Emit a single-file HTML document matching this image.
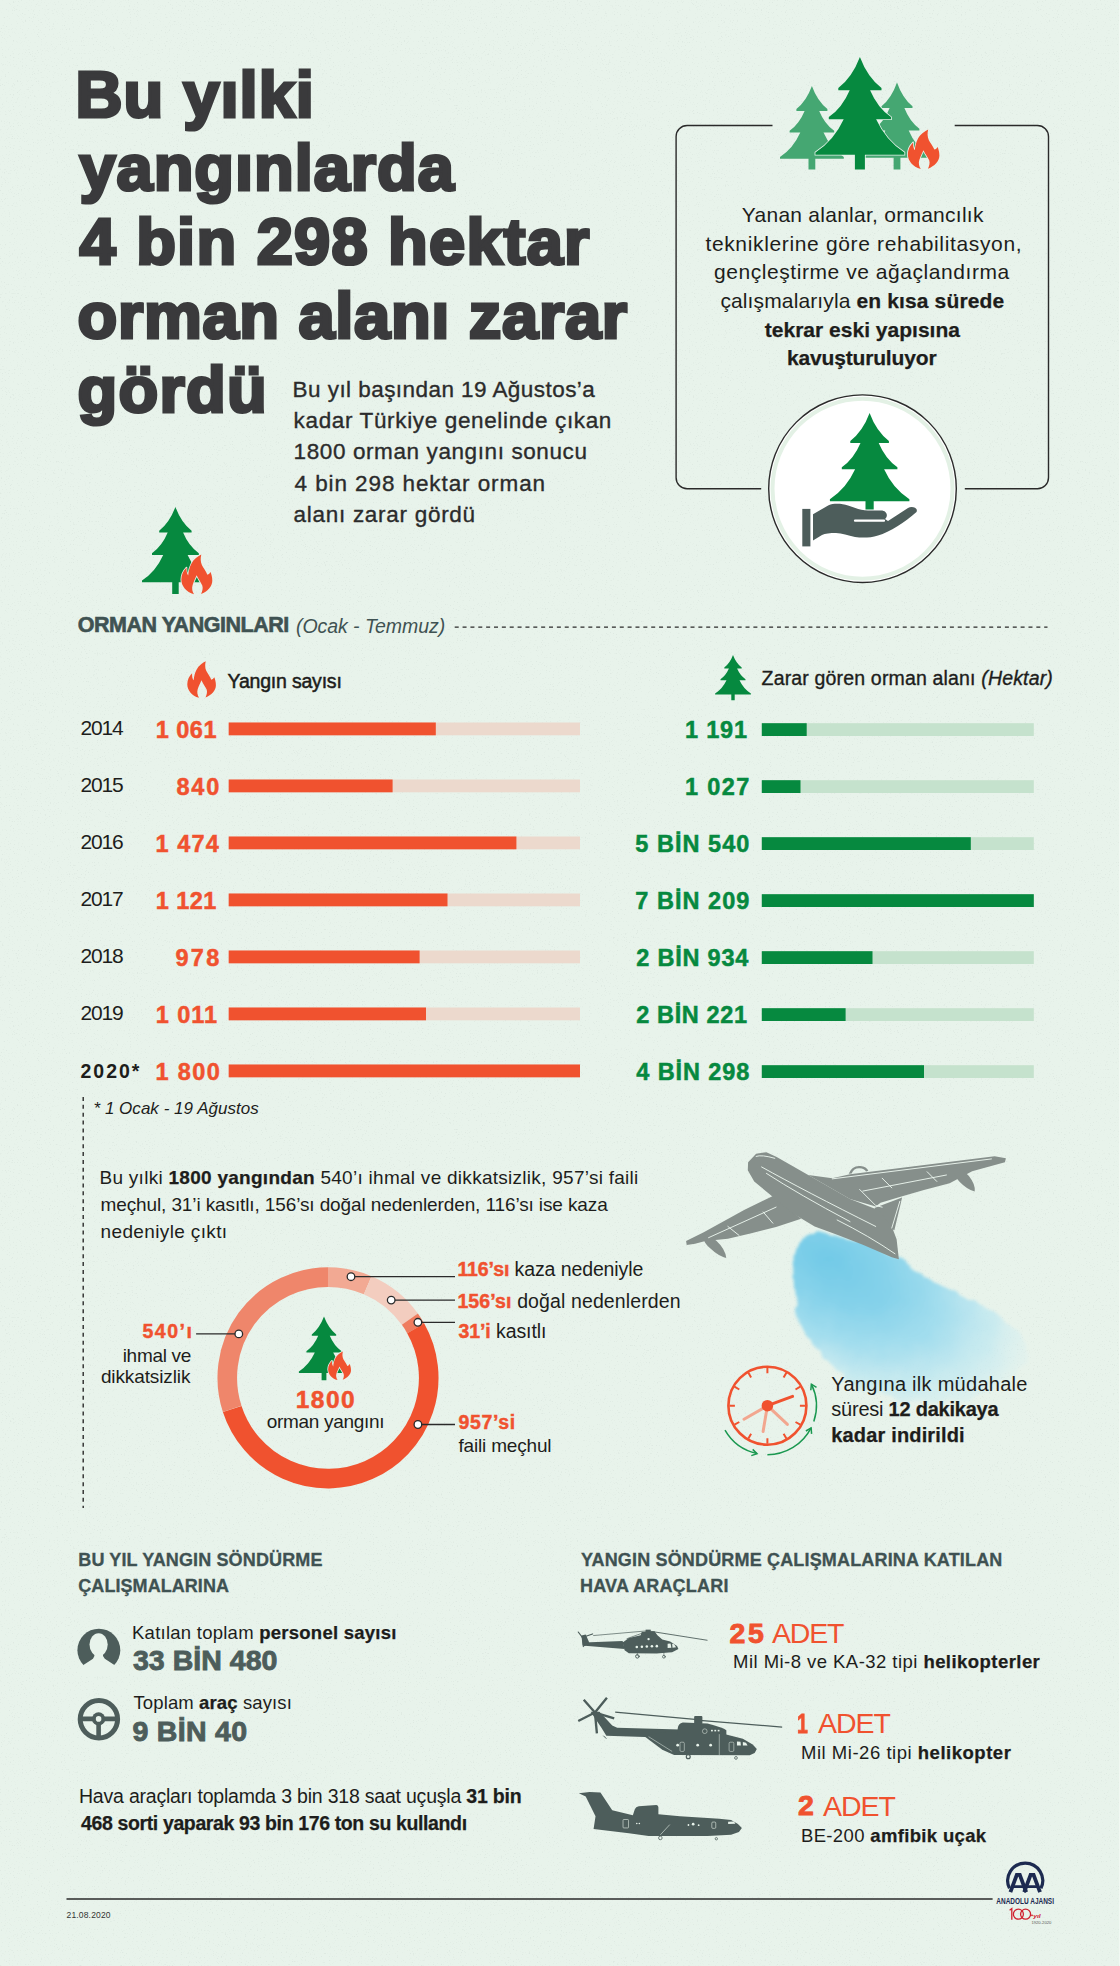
<!DOCTYPE html>
<html lang="tr"><head><meta charset="utf-8"><title>Orman yangınları</title>
<style>
html,body{margin:0;padding:0}
body{width:1120px;height:1966px;background:#e8f3eb;position:relative;overflow:hidden;font-family:'Liberation Sans',sans-serif;}
#g{position:absolute;left:0;top:0}
#t div{position:absolute;white-space:nowrap;line-height:1;font-family:'Liberation Sans',sans-serif;}
</style></head><body>
<svg id="g" width="1120" height="1966" viewBox="0 0 1120 1966">
<defs><filter id="nz" x="0" y="0" width="100%" height="100%"><feTurbulence type="fractalNoise" baseFrequency="0.75" numOctaves="2" seed="7"/><feColorMatrix type="matrix" values="0 0 0 0 0.60  0 0 0 0 0.68  0 0 0 0 0.63  6 0 0 0 -3.75"/></filter></defs>
<rect x="0" y="0" width="1120" height="1966" filter="url(#nz)" opacity="0.33"/>
<g fill="none" stroke="#2a2a2a" stroke-width="1.4"><path d="M772.5,125.5 H687.1 A11,11 0 0 0 676.1,136.5 V477.7 A11,11 0 0 0 687.1,488.7 H761.2"/><path d="M954.7,125.5 H1037.5 A11,11 0 0 1 1048.5,136.5 V477.7 A11,11 0 0 1 1037.5,488.7 H964.8"/></g>
<path d="M811.9,86.1 Q817.3,101.1 827.4,109.1 L827.4,110.9 L819.2,110.9 Q824.5,123.8 834.2,130.8 L834.2,132.5 L823.5,132.5 Q830.6,148.4 843.8,157 L843.8,158.7 L815.3,158.7 L815.3,169.4 L808.5,169.4 L808.5,158.7 L780,158.7 L780,157 Q793.2,148.4 800.3,132.5 L789.6,132.5 L789.6,130.8 Q799.3,123.8 804.6,110.9 L796.4,110.9 L796.4,109.1 Q806.5,101.1 811.9,86.1 Z" fill="#45a772" />
<path d="M897,82.4 Q902.4,97.9 912.5,106.3 L912.5,108.1 L904.4,108.1 Q909.6,121.5 919.4,128.8 L919.4,130.5 L908.7,130.5 Q915.8,147.1 929,156 L929,157.8 L900.4,157.8 L900.4,169.4 L893.6,169.4 L893.6,157.8 L865,157.8 L865,156 Q878.2,147.1 885.3,130.5 L874.6,130.5 L874.6,128.8 Q884.4,121.5 889.6,108.1 L881.5,108.1 L881.5,106.3 Q891.6,97.9 897,82.4 Z" fill="#45a772" />
<path d="M859.9,56.9 Q867.5,77.1 881.5,88 L881.5,90.2 L870.1,90.2 Q877.5,107.7 891,117.1 L891,119.3 L876.1,119.3 Q886,140.9 904.4,152.5 L904.4,154.7 L864.9,154.7 L864.9,169.4 L854.9,169.4 L854.9,154.7 L815.4,154.7 L815.4,152.5 Q833.8,140.9 843.7,119.3 L828.8,119.3 L828.8,117.1 Q842.3,107.7 849.7,90.2 L838.3,90.2 L838.3,88 Q852.3,77.1 859.9,56.9 Z" fill="#06893f" stroke="#e8f3eb" stroke-width="1.6" paint-order="stroke"/>
<path transform="translate(907.5,129.2) scale(0.3190,0.3141)" d="M64.8,1 C55,6 40,16 33,30 C27,42 24,54 23,67 C19,62 17,52 17.6,42 C8,52 1,64 1,80 C1,100 16,120 41.7,127 C36,118 34,108 37,98 C40,88 46,76 50,66.7 C55,78 64,90 68,99 C71,108 68,118 64,126 C85,118 100,102 100,84 C100,72 97,63 94.4,56.5 C92,60 89,64 84.3,65 C80,55 72,44 67,35 C62,24 62,12 64.8,1 Z" fill="#f0522f" stroke="#e8f3eb" stroke-width="5" paint-order="stroke" stroke-linejoin="round"/>
<circle cx="862.5" cy="488.7" r="93.8" fill="#fff" stroke="#2a2a2a" stroke-width="1.4"/>
<circle cx="862.5" cy="488.7" r="90" fill="none" stroke="#e3f1e5" stroke-width="4"/>
<path d="M869.6,413 Q876.3,431.2 888.9,441 L888.9,443 L878.7,443 Q885.3,458.8 897.4,467.3 L897.4,469.3 L884.1,469.3 Q892.9,488.7 909.4,499.2 L909.4,501.2 L873.7,501.2 L873.7,509.4 L865.5,509.4 L865.5,501.2 L829.9,501.2 L829.9,499.2 Q846.3,488.7 855.1,469.3 L841.8,469.3 L841.8,467.3 Q853.9,458.8 860.5,443 L850.3,443 L850.3,441 Q862.9,431.2 869.6,413 Z" fill="#06893f" />
<rect x="802.3" y="508.9" width="8.1" height="37.5" fill="#4d5d5b"/>
<path fill="#4d5d5b" d="M813,514.3 L828.6,505.2 C834,503 842,503.5 848,505.5 C855,508 861,510.5 868,510.5 L881,510.5 C887,510.5 888.5,516 885,519 L888,521 L908,508 C912,505.5 918.5,508 916.5,512 C905,522 890,532 878,535.5 C870,538 862,538 855,537 C848,535.5 842,533 836,533 C830,533 825,533.5 822,535 L813,540.5 Z"/>
<path d="M855,520.7 H884" stroke="#fff" stroke-width="2.2" stroke-linecap="round"/>
<path d="M175.4,506.9 Q181.1,522.4 191.6,530.8 L191.6,532.6 L183.1,532.6 Q188.6,546 198.8,553.3 L198.8,555 L187.6,555 Q195,571.6 208.8,580.5 L208.8,582.3 L178.7,582.3 L178.7,594 L172.2,594 L172.2,582.3 L142,582.3 L142,580.5 Q155.8,571.6 163.2,555 L152,555 L152,553.3 Q162.2,546 167.7,532.6 L159.2,532.6 L159.2,530.8 Q169.7,522.4 175.4,506.9 Z" fill="#06893f" />
<path transform="translate(181,554.3) scale(0.3130,0.3148)" d="M64.8,1 C55,6 40,16 33,30 C27,42 24,54 23,67 C19,62 17,52 17.6,42 C8,52 1,64 1,80 C1,100 16,120 41.7,127 C36,118 34,108 37,98 C40,88 46,76 50,66.7 C55,78 64,90 68,99 C71,108 68,118 64,126 C85,118 100,102 100,84 C100,72 97,63 94.4,56.5 C92,60 89,64 84.3,65 C80,55 72,44 67,35 C62,24 62,12 64.8,1 Z" fill="#f0522f" stroke="#e8f3eb" stroke-width="5.1" paint-order="stroke" stroke-linejoin="round"/>
<path d="M454.7,627.1 H1047.5" stroke="#2a2a2a" stroke-width="1.4" stroke-dasharray="4 3.86" fill="none"/>
<path transform="translate(187,661) scale(0.2890,0.2891)" d="M64.8,1 C55,6 40,16 33,30 C27,42 24,54 23,67 C19,62 17,52 17.6,42 C8,52 1,64 1,80 C1,100 16,120 41.7,127 C36,118 34,108 37,98 C40,88 46,76 50,66.7 C55,78 64,90 68,99 C71,108 68,118 64,126 C85,118 100,102 100,84 C100,72 97,63 94.4,56.5 C92,60 89,64 84.3,65 C80,55 72,44 67,35 C62,24 62,12 64.8,1 Z" fill="#f0522f" />
<path d="M733,655 Q736,663.1 741.7,667.5 L741.7,668.6 L737.1,668.6 Q740.1,675.5 745.5,679.3 L745.5,680.3 L739.5,680.3 Q743.5,688.9 750.9,693.5 L750.9,694.6 L734.7,694.6 L734.7,700.3 L731.3,700.3 L731.3,694.6 L715.1,694.6 L715.1,693.5 Q722.5,688.9 726.5,680.3 L720.5,680.3 L720.5,679.3 Q725.9,675.5 728.9,668.6 L724.3,668.6 L724.3,667.5 Q730,663.1 733,655 Z" fill="#06893f" />
<rect x="228.7" y="722.5" width="351.3" height="12.8" fill="#ecd9cd"/>
<rect x="228.7" y="722.5" width="207.1" height="12.8" fill="#f0522f"/>
<rect x="761.8" y="723.2" width="272" height="12.8" fill="#c5e2cd"/>
<rect x="761.8" y="723.2" width="44.9" height="12.8" fill="#06893f"/>
<rect x="228.7" y="779.5" width="351.3" height="12.8" fill="#ecd9cd"/>
<rect x="228.7" y="779.5" width="163.9" height="12.8" fill="#f0522f"/>
<rect x="761.8" y="780.2" width="272" height="12.8" fill="#c5e2cd"/>
<rect x="761.8" y="780.2" width="38.7" height="12.8" fill="#06893f"/>
<rect x="228.7" y="836.5" width="351.3" height="12.8" fill="#ecd9cd"/>
<rect x="228.7" y="836.5" width="287.7" height="12.8" fill="#f0522f"/>
<rect x="761.8" y="837.2" width="272" height="12.8" fill="#c5e2cd"/>
<rect x="761.8" y="837.2" width="209" height="12.8" fill="#06893f"/>
<rect x="228.7" y="893.5" width="351.3" height="12.8" fill="#ecd9cd"/>
<rect x="228.7" y="893.5" width="218.8" height="12.8" fill="#f0522f"/>
<rect x="761.8" y="894.2" width="272" height="12.8" fill="#c5e2cd"/>
<rect x="761.8" y="894.2" width="272" height="12.8" fill="#06893f"/>
<rect x="228.7" y="950.5" width="351.3" height="12.8" fill="#ecd9cd"/>
<rect x="228.7" y="950.5" width="190.9" height="12.8" fill="#f0522f"/>
<rect x="761.8" y="951.2" width="272" height="12.8" fill="#c5e2cd"/>
<rect x="761.8" y="951.2" width="110.7" height="12.8" fill="#06893f"/>
<rect x="228.7" y="1007.5" width="351.3" height="12.8" fill="#ecd9cd"/>
<rect x="228.7" y="1007.5" width="197.3" height="12.8" fill="#f0522f"/>
<rect x="761.8" y="1008.2" width="272" height="12.8" fill="#c5e2cd"/>
<rect x="761.8" y="1008.2" width="83.8" height="12.8" fill="#06893f"/>
<rect x="228.7" y="1064.5" width="351.3" height="12.8" fill="#ecd9cd"/>
<rect x="228.7" y="1064.5" width="351.3" height="12.8" fill="#f0522f"/>
<rect x="761.8" y="1065.2" width="272" height="12.8" fill="#c5e2cd"/>
<rect x="761.8" y="1065.2" width="162.2" height="12.8" fill="#06893f"/>
<path d="M83.2,1097 V1508" stroke="#2a2a2a" stroke-width="1.4" stroke-dasharray="4 3.86" fill="none"/>
<path d="M328,1277.1 A100.7,100.7 0 0 1 367.7,1285.2" fill="none" stroke="#f2a993" stroke-width="19.6"/>
<path d="M367.7,1285.2 A100.7,100.7 0 0 1 409.9,1319.2" fill="none" stroke="#f3cdbf" stroke-width="19.6"/>
<path d="M409.9,1319.2 A100.7,100.7 0 0 1 415.7,1328.4" fill="none" stroke="#ef7c5f" stroke-width="19.6"/>
<path d="M415.7,1328.4 A100.7,100.7 0 1 1 232.2,1408.9" fill="none" stroke="#f0522f" stroke-width="19.6"/>
<path d="M232.2,1408.9 A100.7,100.7 0 0 1 328,1277.1" fill="none" stroke="#ef866b" stroke-width="19.6"/>
<path d="M351,1276.7 H455" stroke="#2a2a2a" stroke-width="1.3" fill="none"/>
<path d="M391.2,1300.1 H455" stroke="#2a2a2a" stroke-width="1.3" fill="none"/>
<path d="M417.9,1322.3 H455" stroke="#2a2a2a" stroke-width="1.3" fill="none"/>
<path d="M417.9,1424.5 H455" stroke="#2a2a2a" stroke-width="1.3" fill="none"/>
<path d="M238.8,1333.9 H196.1" stroke="#2a2a2a" stroke-width="1.3" fill="none"/>
<circle cx="351" cy="1276.7" r="3.8" fill="#fff" stroke="#2a2a2a" stroke-width="1.3"/>
<circle cx="391.2" cy="1300.1" r="3.8" fill="#fff" stroke="#2a2a2a" stroke-width="1.3"/>
<circle cx="417.9" cy="1322.3" r="3.8" fill="#fff" stroke="#2a2a2a" stroke-width="1.3"/>
<circle cx="417.9" cy="1424.5" r="3.8" fill="#fff" stroke="#2a2a2a" stroke-width="1.3"/>
<circle cx="238.8" cy="1333.9" r="3.8" fill="#fff" stroke="#2a2a2a" stroke-width="1.3"/>
<path d="M324,1316.5 Q328.3,1328.1 336.2,1334.4 L336.2,1335.8 L329.8,1335.8 Q333.9,1345.8 341.6,1351.2 L341.6,1352.6 L333.2,1352.6 Q338.7,1364.9 349.1,1371.5 L349.1,1372.9 L326.4,1372.9 L326.4,1380.3 L321.6,1380.3 L321.6,1372.9 L298.9,1372.9 L298.9,1371.5 Q309.3,1364.9 314.8,1352.6 L306.4,1352.6 L306.4,1351.2 Q314.1,1345.8 318.2,1335.8 L311.8,1335.8 L311.8,1334.4 Q319.7,1328.1 324,1316.5 Z" fill="#06893f" />
<path transform="translate(327.9,1351.3) scale(0.2310,0.2266)" d="M64.8,1 C55,6 40,16 33,30 C27,42 24,54 23,67 C19,62 17,52 17.6,42 C8,52 1,64 1,80 C1,100 16,120 41.7,127 C36,118 34,108 37,98 C40,88 46,76 50,66.7 C55,78 64,90 68,99 C71,108 68,118 64,126 C85,118 100,102 100,84 C100,72 97,63 94.4,56.5 C92,60 89,64 84.3,65 C80,55 72,44 67,35 C62,24 62,12 64.8,1 Z" fill="#f0522f" stroke="#e8f3eb" stroke-width="6.9" paint-order="stroke" stroke-linejoin="round"/>
<defs><radialGradient id="wg" gradientUnits="userSpaceOnUse" cx="0" cy="0" r="1" gradientTransform="translate(828,1260) rotate(30) scale(228,128)"><stop offset="0" stop-color="#72cae7" stop-opacity="1"/><stop offset="0.3" stop-color="#86d2ea" stop-opacity="1"/><stop offset="0.55" stop-color="#9fdcee" stop-opacity="0.95"/><stop offset="0.8" stop-color="#bfe8f1" stop-opacity="0.7"/><stop offset="1" stop-color="#d6f0f3" stop-opacity="0.15"/></radialGradient><filter id="wb" x="-15%" y="-15%" width="130%" height="130%"><feTurbulence type="fractalNoise" baseFrequency="0.045" numOctaves="3" seed="4" result="n"/><feDisplacementMap in="SourceGraphic" in2="n" scale="12" xChannelSelector="R" yChannelSelector="G"/><feGaussianBlur stdDeviation="1.7"/></filter></defs>
<path filter="url(#wb)" fill="url(#wg)" d="M816,1231 L800,1242 L793.5,1256 L795,1284 L797.6,1317 L812,1342 L824,1358 L841,1375 L857,1387 L882,1395 L915,1403 L968,1400 L1009,1384 L1030,1358 L1021,1334 L1001,1317 L972,1301 L939,1284 L906,1264 L898,1257 L860,1240 Z"/>
<g transform="translate(670,1130) scale(0.32143)" fill="#868f8b"><path d="M320,205 L232,248 L105,318 L50,345 L52,358 L78,354 L110,345 L180,338 L250,322 L330,302 L408,276 Z"/><path d="M103,335 Q120,325 145,345 Q172,370 175,398 Q150,392 125,368 Q105,350 103,335 Z"/><path d="M430,140 L505,150 L560,138 L1010,82 L1045,88 L1042,100 L940,128 L870,166 L790,187 L720,207 L655,226 L640,238 L560,215 Z"/><path d="M882,120 Q905,116 930,143 Q951,170 948,191 Q925,186 900,160 Q880,140 882,120 Z"/><path d="M556,136 Q566,110 592,112 Q612,114 617,127 L610,129 Q605,120 590,119 Q572,118 565,135 Z"/><path d="M636,243 L722,210 L718,228 L698,312 L680,302 Z"/><path d="M243,100 L268,74 L300,69 L332,84 L430,140 L560,215 L650,250 L690,300 L705,340 L712,402 L690,396 L600,357 L520,326 L450,300 L380,258 L310,200 L262,160 L242,125 Z"/><g fill="none" stroke="#e8f3eb" stroke-width="3" stroke-linecap="round"><path d="M268,82 Q285,76 326,88"/><path d="M285,115 Q420,190 640,300"/><path d="M300,135 Q400,200 560,285"/><path d="M520,280 Q620,330 700,385"/><path d="M505,152 L1000,90"/><path d="M600,190 L860,140"/><path d="M660,150 L690,180"/><path d="M800,130 L830,160"/><path d="M120,335 L330,240"/><path d="M180,300 L215,328"/><path d="M290,255 L320,290"/><path d="M590,185 L640,235 L660,240"/><path d="M715,222 L690,305"/></g></g>
<circle cx="767.4" cy="1405.7" r="39" fill="none" stroke="#f0522f" stroke-width="2.6"/>
<path d="M767.4,1367.7 L767.4,1373.2 M786.4,1372.8 L783.6,1377.6 M800.3,1386.7 L795.5,1389.5 M805.4,1405.7 L799.9,1405.7 M800.3,1424.7 L795.5,1422 M786.4,1438.6 L783.6,1433.8 M767.4,1443.7 L767.4,1438.2 M748.4,1438.6 L751.1,1433.8 M734.5,1424.7 L739.3,1422 M729.4,1405.7 L734.9,1405.7 M734.5,1386.7 L739.3,1389.5 M748.4,1372.8 L751.1,1377.6" stroke="#f0522f" stroke-width="2" fill="none"/>
<g stroke="#f2a68f" stroke-width="3" stroke-linecap="round"><path d="M767.4,1405.7 L744,1419.2"/><path d="M767.4,1405.7 L763.1,1431.4"/><path d="M767.4,1405.7 L787.4,1424.4"/></g>
<path d="M767.4,1405.7 L792.6,1396.4" stroke="#f0522f" stroke-width="3" stroke-linecap="round"/>
<circle cx="767.4" cy="1405.7" r="5.8" fill="#f0522f"/>
<path d="M767.4,1454.7 A49,49 0 0 0 811.1,1427.9" fill="none" stroke="#1a9850" stroke-width="1.5"/><path d="M805.9,1431 L811.1,1427.9 L811.6,1433.9" fill="none" stroke="#1a9850" stroke-width="1.5" stroke-linejoin="miter"/>
<path d="M813.8,1421.5 A49,49 0 0 0 811.4,1384.2" fill="none" stroke="#1a9850" stroke-width="1.5"/><path d="M810.8,1390.2 L811.4,1384.2 L816.5,1387.4" fill="none" stroke="#1a9850" stroke-width="1.5" stroke-linejoin="miter"/>
<path d="M725,1430.2 A49,49 0 0 0 757,1453.6" fill="none" stroke="#1a9850" stroke-width="1.5"/><path d="M752.7,1449.4 L757,1453.6 L751.3,1455.6" fill="none" stroke="#1a9850" stroke-width="1.5" stroke-linejoin="miter"/>
<circle cx="98.85" cy="1650.15" r="21.45" fill="#4d5d5b"/>
<ellipse cx="98.6" cy="1644.6" rx="9.1" ry="11.4" fill="#e8f3eb"/>
<path fill="#e8f3eb" d="M94.4,1652 L94.4,1656 L93,1658.7 L83.4,1665.1 L78,1676 L120,1676 L114.4,1665.1 L104.8,1658.7 L103,1656 L103,1652 Z"/>
<circle cx="98.9" cy="1719.2" r="18.7" fill="none" stroke="#4d5d5b" stroke-width="5"/>
<path d="M80.5,1718.9 H117.3 M98.6,1719 V1738" stroke="#4d5d5b" stroke-width="4.6" fill="none"/>
<circle cx="98.6" cy="1718.9" r="6.6" fill="#4d5d5b"/><circle cx="98.6" cy="1718.9" r="2.8" fill="#e8f3eb"/>
<g transform="translate(570,1610) scale(0.19643)" fill="#4d5d5b" stroke="none"><path d="M268,165 L300,142 L360,128 L365,112 L430,108 L445,128 L470,150 L510,160 L545,183 L552,198 L520,215 L440,222 L300,220 L278,205 Z"/><path d="M70,165 L268,158 L278,198 L75,182 Z"/><path d="M58,130 L80,125 L98,165 L75,184 L64,180 Z"/><rect x="385" y="100" width="26" height="26"/><g stroke="#4d5d5b" fill="none" stroke-linecap="round"><path d="M42,112 L78,160 M62,140 L115,122 M64,140 L68,186" stroke-width="6"/><path d="M120,130 L395,106 M290,146 L395,108" stroke-width="3.5"/><path d="M395,106 L698,154" stroke-width="4.5"/><path d="M343,215 V232 M478,215 V232" stroke-width="3"/><circle cx="343" cy="236" r="9" stroke-width="5"/><circle cx="478" cy="238" r="7" stroke-width="4"/></g><g fill="#e8f3eb"><circle cx="340" cy="188" r="6.5"/><circle cx="366" cy="187" r="6.5"/><circle cx="391" cy="186" r="6.5"/><circle cx="417" cy="185" r="6.5"/><circle cx="442" cy="184" r="6.5"/><path d="M497,172 L512,170 L516,192 L497,194 Z M520,172 L530,174 L540,190 L522,192 Z"/><circle cx="400" cy="148" r="6"/></g><g stroke="#4d5d5b" fill="none" stroke-linecap="butt"><path d="M127,522 L70,457 M127,522 L188,447 M127,522 L42,565 M127,522 L225,552 M127,522 L137,628" stroke-width="12"/><path d="M230,520 L650,558 M660,562 L1080,596" stroke-width="6"/><circle cx="602" cy="747" r="10" stroke-width="6"/><circle cx="845" cy="753" r="7" stroke-width="4"/><path d="M170,640 L185,655" stroke-width="5"/></g><path d="M105,518 L150,518 L215,588 L240,600 L560,608 L560,642 L380,646 L185,640 L160,600 Z"/><path d="M375,640 L560,608 L790,632 L880,655 L930,685 L951,708 L940,728 L915,740 L530,738 L470,712 Z"/><path d="M548,606 Q550,578 575,573 L700,578 Q780,598 796,612 L796,636 L548,636 Z"/><rect x="632" y="540" width="42" height="40" rx="5"/><g fill="#e8f3eb"><circle cx="548" cy="688" r="7"/><circle cx="650" cy="688" r="7"/><circle cx="716" cy="688" r="7"/><path d="M850,670 L868,671 L870,690 L850,690 Z M880,672 L896,676 L904,690 L880,690 Z"/><rect x="718" y="610" width="9" height="8"/><rect x="735" y="610" width="9" height="8"/><rect x="752" y="610" width="9" height="8"/></g><g fill="none" stroke="#e8f3eb" stroke-width="2.5"><rect x="560" y="673" width="22" height="47" rx="6"/><rect x="810" y="673" width="24" height="47" rx="6"/><path d="M760,632 V738 M400,645 L520,720"/><circle cx="686" cy="617" r="12"/></g></g>
<g transform="translate(570,1770) scale(0.19643)" fill="#4d5d5b"><path d="M45,118 L100,112 L155,115 L215,205 L320,230 L330,200 Q335,188 350,185 L440,178 Q450,180 450,190 L450,225 L560,235 L760,248 L820,255 L855,275 L875,295 L860,315 L820,330 L700,336 L480,336 L400,336 L300,322 L120,300 L130,235 L80,135 Z"/><g fill="none" stroke="#4d5d5b" stroke-width="4"><circle cx="460" cy="346" r="9"/><circle cx="745" cy="350" r="6"/></g><g fill="#e8f3eb"><circle cx="340" cy="272" r="4"/><circle cx="353" cy="272" r="4"/><circle cx="603" cy="280" r="4.5"/><circle cx="627" cy="276" r="7"/><circle cx="655" cy="281" r="4.5"/><path d="M805,264 L835,262 L842,274 L805,275 Z"/></g><g fill="none" stroke="#e8f3eb" stroke-width="3"><rect x="270" y="252" width="28" height="43" rx="4"/><rect x="722" y="265" width="20" height="32" rx="5"/><path d="M460,330 L508,278"/></g></g>
<path d="M66.5,1899.1 H992.6" stroke="#2a2a2a" stroke-width="1.5"/>
<path d="M1009.5,1888.3 A17.5,17.5 0 1 1 1040.9,1888.3" fill="none" stroke="#1c2a50" stroke-width="3.2"/>
<g fill="none" stroke="#1c2a50" stroke-width="3.8" stroke-linejoin="miter"><path d="M1010.4,1892.2 L1016.8,1874.8 L1019.8,1874.8 L1026.2,1892.2"/><path d="M1024.2,1892.2 L1030.6,1874.8 L1033.6,1874.8 L1040,1892.2"/></g>
<path d="M1013,1886.6 H1023.6 M1026.8,1886.6 H1037.4" stroke="#1c2a50" stroke-width="2.6"/>
<text x="996.3" y="1903.5" font-family="Liberation Sans, sans-serif" font-weight="700" font-size="9.8" fill="#1c2a50" textLength="57.7" lengthAdjust="spacingAndGlyphs">ANADOLU AJANSI</text>
<g fill="none" stroke="#d0202e" stroke-width="1.3"><path d="M1009.6,1910.2 L1011.8,1908.6 V1919.7"/><circle cx="1018.4" cy="1914.2" r="5"/><circle cx="1025.6" cy="1914.2" r="5"/></g>
<circle cx="1032" cy="1915.3" r="0.9" fill="#d0202e"/>
<text x="1033.2" y="1917.5" font-family="Liberation Sans, sans-serif" font-style="italic" font-weight="700" font-size="6.2" fill="#d0202e" textLength="7.5" lengthAdjust="spacingAndGlyphs">yıl</text>
<text x="1031.4" y="1923.7" font-family="Liberation Sans, sans-serif" font-size="3.6" fill="#555" textLength="20" lengthAdjust="spacingAndGlyphs">1920-2020</text>
<rect x="1119" y="0" width="1" height="1966" fill="#f1f8f2"/>
</svg>
<div id="t">
<div style="left:75.5px;top:61.55px;font-size:65px;letter-spacing:1.029px;font-weight:700;color:#3a3a3c;-webkit-text-stroke:3.2px #3a3a3c;">Bu yılki</div>
<div style="left:79.5px;top:135.45px;font-size:65px;letter-spacing:0.95px;font-weight:700;color:#3a3a3c;-webkit-text-stroke:3.2px #3a3a3c;">yangınlarda</div>
<div style="left:79.5px;top:209.35px;font-size:65px;letter-spacing:1.233px;font-weight:700;color:#3a3a3c;-webkit-text-stroke:3.2px #3a3a3c;">4 bin 298 hektar</div>
<div style="left:77.5px;top:283.15px;font-size:65px;letter-spacing:0.706px;font-weight:700;color:#3a3a3c;-webkit-text-stroke:3.2px #3a3a3c;">orman alanı zarar</div>
<div style="left:77.5px;top:357.05px;font-size:65px;letter-spacing:1.25px;font-weight:700;color:#3a3a3c;-webkit-text-stroke:3.2px #3a3a3c;">gördü</div>
<div style="left:292.6px;top:379.3px;font-size:22.5px;letter-spacing:0.444px;color:#2b2b2b;-webkit-text-stroke:0.35px #2b2b2b;">Bu yıl başından 19 Ağustos’a</div>
<div style="left:293.6px;top:410.4px;font-size:22.5px;letter-spacing:0.643px;color:#2b2b2b;-webkit-text-stroke:0.35px #2b2b2b;">kadar Türkiye genelinde çıkan</div>
<div style="left:293.6px;top:441.3px;font-size:22.5px;letter-spacing:0.6px;color:#2b2b2b;-webkit-text-stroke:0.35px #2b2b2b;">1800 orman yangını sonucu</div>
<div style="left:294.6px;top:472.6px;font-size:22.5px;letter-spacing:0.91px;color:#2b2b2b;-webkit-text-stroke:0.35px #2b2b2b;">4 bin 298 hektar orman</div>
<div style="left:293.6px;top:503.8px;font-size:22.5px;letter-spacing:0.712px;color:#2b2b2b;-webkit-text-stroke:0.35px #2b2b2b;">alanı zarar gördü</div>
<div style="left:741.8px;top:204.35px;font-size:21px;letter-spacing:0.258px;color:#1d1d1b;">Yanan alanlar, ormancılık</div>
<div style="left:705.4px;top:232.55px;font-size:21px;letter-spacing:0.653px;color:#1d1d1b;">tekniklerine göre rehabilitasyon,</div>
<div style="left:714px;top:261.45px;font-size:21px;letter-spacing:0.559px;color:#1d1d1b;">gençleştirme ve ağaçlandırma</div>
<div style="left:720.4px;top:289.93px;font-size:21px;letter-spacing:0.129px;color:#1d1d1b;">çalışmalarıyla <b style="font-weight:700;-webkit-text-stroke:0.25px #1d1d1b;">en kısa sürede</b></div>
<div style="left:764.8px;top:318.52px;font-size:21px;letter-spacing:0.011px;color:#1d1d1b;"><b style="font-weight:700;-webkit-text-stroke:0.25px #1d1d1b;">tekrar eski yapısına</b></div>
<div style="left:786.9px;top:346.52px;font-size:21px;letter-spacing:-0.154px;color:#1d1d1b;"><b style="font-weight:700;-webkit-text-stroke:0.25px #1d1d1b;">kavuşturuluyor</b></div>
<div style="left:77.7px;top:615.43px;font-size:21.5px;letter-spacing:-0.467px;font-weight:700;color:#3f5252;-webkit-text-stroke:0.6px #3f5252;">ORMAN YANGINLARI</div>
<div style="left:296px;top:617.22px;font-size:19.5px;letter-spacing:-0.05px;font-style:italic;color:#3f5252;">(Ocak - Temmuz)</div>
<div style="left:227.6px;top:672.17px;font-size:19.5px;letter-spacing:-0.208px;color:#1d1d1b;-webkit-text-stroke:0.5px #1d1d1b;">Yangın sayısı</div>
<div style="left:761.6px;top:669.25px;font-size:19.5px;letter-spacing:0.165px;color:#1d1d1b;-webkit-text-stroke:0.35px #1d1d1b;">Zarar gören orman alanı <i style="font-weight:400">(Hektar)</i></div>
<div style="left:80.4px;top:717.45px;font-size:21px;letter-spacing:-1.133px;color:#1d1d1b;">2014</div>
<div style="left:80.4px;top:774.45px;font-size:21px;letter-spacing:-1.133px;color:#1d1d1b;">2015</div>
<div style="left:80.4px;top:831.45px;font-size:21px;letter-spacing:-1.133px;color:#1d1d1b;">2016</div>
<div style="left:80.4px;top:888.45px;font-size:21px;letter-spacing:-1.133px;color:#1d1d1b;">2017</div>
<div style="left:80.4px;top:945.45px;font-size:21px;letter-spacing:-1.133px;color:#1d1d1b;">2018</div>
<div style="left:80.4px;top:1002.45px;font-size:21px;letter-spacing:-1.133px;color:#1d1d1b;">2019</div>
<div style="left:80.4px;top:1061.72px;font-size:19.5px;letter-spacing:2.025px;font-weight:700;color:#1d1d1b;">2020*</div>
<div style="left:155.7px;top:718.77px;font-size:23.5px;letter-spacing:0.5px;font-weight:700;color:#f0522f;-webkit-text-stroke:0.5px #f0522f;">1 061</div>
<div style="left:176.5px;top:775.77px;font-size:23.5px;letter-spacing:1.75px;font-weight:700;color:#f0522f;-webkit-text-stroke:0.5px #f0522f;">840</div>
<div style="left:155.5px;top:832.77px;font-size:23.5px;letter-spacing:1.125px;font-weight:700;color:#f0522f;-webkit-text-stroke:0.5px #f0522f;">1 474</div>
<div style="left:155.7px;top:889.77px;font-size:23.5px;letter-spacing:0.45px;font-weight:700;color:#f0522f;-webkit-text-stroke:0.5px #f0522f;">1 121</div>
<div style="left:175.5px;top:946.77px;font-size:23.5px;letter-spacing:2.25px;font-weight:700;color:#f0522f;-webkit-text-stroke:0.5px #f0522f;">978</div>
<div style="left:155.7px;top:1003.77px;font-size:23.5px;letter-spacing:0.95px;font-weight:700;color:#f0522f;-webkit-text-stroke:0.5px #f0522f;">1 011</div>
<div style="left:155.5px;top:1060.78px;font-size:23.5px;letter-spacing:1.375px;font-weight:700;color:#f0522f;-webkit-text-stroke:0.5px #f0522f;">1 800</div>
<div style="left:684.9px;top:719.07px;font-size:23.5px;letter-spacing:0.825px;font-weight:700;color:#06893f;-webkit-text-stroke:0.5px #06893f;">1 191</div>
<div style="left:684.9px;top:776.07px;font-size:23.5px;letter-spacing:1.425px;font-weight:700;color:#06893f;-webkit-text-stroke:0.5px #06893f;">1 027</div>
<div style="left:635.2px;top:833.07px;font-size:23.5px;letter-spacing:1.05px;font-weight:700;color:#06893f;-webkit-text-stroke:0.5px #06893f;">5 BİN 540</div>
<div style="left:635.2px;top:890.07px;font-size:23.5px;letter-spacing:1.05px;font-weight:700;color:#06893f;-webkit-text-stroke:0.5px #06893f;">7 BİN 209</div>
<div style="left:636.2px;top:947.07px;font-size:23.5px;letter-spacing:0.8px;font-weight:700;color:#06893f;-webkit-text-stroke:0.5px #06893f;">2 BİN 934</div>
<div style="left:636.2px;top:1004.07px;font-size:23.5px;letter-spacing:0.625px;font-weight:700;color:#06893f;-webkit-text-stroke:0.5px #06893f;">2 BİN 221</div>
<div style="left:636.2px;top:1061.08px;font-size:23.5px;letter-spacing:0.925px;font-weight:700;color:#06893f;-webkit-text-stroke:0.5px #06893f;">4 BİN 298</div>
<div style="left:93.5px;top:1100.35px;font-size:17px;letter-spacing:0.025px;font-style:italic;color:#1d1d1b;">* 1 Ocak - 19 Ağustos</div>
<div style="left:99.5px;top:1168.12px;font-size:19px;letter-spacing:0.273px;color:#1d1d1b;">Bu yılki <b style="font-weight:700;-webkit-text-stroke:0.25px #1d1d1b;">1800 yangından</b> 540’ı ihmal ve dikkatsizlik, 957’si faili</div>
<div style="left:100.5px;top:1195.25px;font-size:19px;letter-spacing:-0.115px;color:#1d1d1b;">meçhul, 31’i kasıtlı, 156’sı doğal nedenlerden, 116’sı ise kaza</div>
<div style="left:100.5px;top:1222.25px;font-size:19px;letter-spacing:0.371px;color:#1d1d1b;">nedeniyle çıktı</div>
<div style="left:457.4px;top:1260.0px;font-size:19.5px;letter-spacing:-0.1px;color:#1d1d1b;"><b style="font-weight:700;color:#f0522f;-webkit-text-stroke:0.45px #f0522f;">116’sı</b> kaza nedeniyle</div>
<div style="left:457.4px;top:1291.6px;font-size:19.5px;letter-spacing:0.117px;color:#1d1d1b;"><b style="font-weight:700;color:#f0522f;-webkit-text-stroke:0.45px #f0522f;">156’sı</b> doğal nedenlerden</div>
<div style="left:458.4px;top:1322.4px;font-size:19.5px;letter-spacing:-0.073px;color:#1d1d1b;"><b style="font-weight:700;color:#f0522f;-webkit-text-stroke:0.45px #f0522f;">31’i</b> kasıtlı</div>
<div style="left:458.4px;top:1412.9px;font-size:19.5px;letter-spacing:0.68px;color:#1d1d1b;"><b style="font-weight:700;color:#f0522f;-webkit-text-stroke:0.45px #f0522f;">957’si</b></div>
<div style="left:458.4px;top:1436.05px;font-size:19px;letter-spacing:-0.173px;color:#1d1d1b;">faili meçhul</div>
<div style="left:142.4px;top:1322.4px;font-size:19.5px;letter-spacing:1.55px;color:#1d1d1b;"><b style="font-weight:700;color:#f0522f;-webkit-text-stroke:0.45px #f0522f;">540’ı</b></div>
<div style="left:122.7px;top:1345.55px;font-size:19px;letter-spacing:-0.3px;color:#1d1d1b;">ihmal ve</div>
<div style="left:100.9px;top:1367.05px;font-size:19px;letter-spacing:-0.118px;color:#1d1d1b;">dikkatsizlik</div>
<div style="left:295.7px;top:1388.22px;font-size:24.5px;letter-spacing:1.5px;font-weight:700;color:#f0522f;-webkit-text-stroke:0.5px #f0522f;">1800</div>
<div style="left:266.8px;top:1412.45px;font-size:19px;letter-spacing:-0.308px;color:#1d1d1b;">orman yangını</div>
<div style="left:831.3px;top:1374.2px;font-size:20px;letter-spacing:0.279px;color:#1d1d1b;">Yangına ilk müdahale</div>
<div style="left:831.3px;top:1398.97px;font-size:20px;letter-spacing:-0.229px;color:#1d1d1b;">süresi <b style="font-weight:700;-webkit-text-stroke:0.25px #1d1d1b;">12 dakikaya</b></div>
<div style="left:831.3px;top:1424.67px;font-size:20px;letter-spacing:0.157px;color:#1d1d1b;"><b style="font-weight:700;-webkit-text-stroke:0.25px #1d1d1b;">kadar indirildi</b></div>
<div style="left:78.3px;top:1550.95px;font-size:18px;letter-spacing:0.129px;font-weight:700;color:#3f5252;-webkit-text-stroke:0.3px #3f5252;">BU YIL YANGIN SÖNDÜRME</div>
<div style="left:78.3px;top:1577.35px;font-size:18px;letter-spacing:0.058px;font-weight:700;color:#3f5252;-webkit-text-stroke:0.3px #3f5252;">ÇALIŞMALARINA</div>
<div style="left:132px;top:1623.55px;font-size:18.5px;letter-spacing:0.252px;color:#1d1d1b;">Katılan toplam <b style="font-weight:700;-webkit-text-stroke:0.25px #1d1d1b;">personel sayısı</b></div>
<div style="left:133px;top:1645.92px;font-size:28.5px;letter-spacing:0.022px;font-weight:700;color:#4d5d5b;-webkit-text-stroke:0.9px #4d5d5b;">33 BİN 480</div>
<div style="left:133.5px;top:1694.35px;font-size:18.5px;letter-spacing:0.118px;color:#1d1d1b;">Toplam <b style="font-weight:700;-webkit-text-stroke:0.25px #1d1d1b;">araç</b> sayısı</div>
<div style="left:132.5px;top:1717.42px;font-size:28.5px;letter-spacing:0.3px;font-weight:700;color:#4d5d5b;-webkit-text-stroke:0.9px #4d5d5b;">9 BİN 40</div>
<div style="left:79px;top:1787.1px;font-size:19.5px;letter-spacing:-0.21px;color:#1d1d1b;">Hava araçları toplamda 3 bin 318 saat uçuşla <b style="font-weight:700;-webkit-text-stroke:0.25px #1d1d1b;">31 bin</b></div>
<div style="left:81px;top:1813.7px;font-size:19.5px;letter-spacing:-0.372px;color:#1d1d1b;"><b style="font-weight:700;-webkit-text-stroke:0.25px #1d1d1b;">468 sorti yaparak 93 bin 176 ton su kullandı</b></div>
<div style="left:581px;top:1551.05px;font-size:18px;letter-spacing:0.167px;font-weight:700;color:#3f5252;-webkit-text-stroke:0.3px #3f5252;">YANGIN SÖNDÜRME ÇALIŞMALARINA KATILAN</div>
<div style="left:580px;top:1576.95px;font-size:18px;letter-spacing:0.2px;font-weight:700;color:#3f5252;-webkit-text-stroke:0.3px #3f5252;">HAVA ARAÇLARI</div>
<div style="left:729.6px;top:1618.62px;font-size:28.5px;letter-spacing:2.5px;color:#f0522f;"><b style="font-weight:700;-webkit-text-stroke:0.9px #f0522f">25</b></div>
<div style="left:772px;top:1619.08px;font-size:28.5px;letter-spacing:-1.167px;color:#f0522f;">ADET</div>
<div style="left:733.1px;top:1653.35px;font-size:18.5px;letter-spacing:0.451px;color:#1d1d1b;">Mil Mi-8 ve KA-32 tipi <b style="font-weight:700;-webkit-text-stroke:0.25px #1d1d1b;">helikopterler</b></div>
<div style="left:797px;top:1708.62px;font-size:28.5px;letter-spacing:0.0px;color:#f0522f;transform:scaleX(.68);transform-origin:0 0;"><b style="font-weight:700;-webkit-text-stroke:0.9px #f0522f">1</b></div>
<div style="left:818px;top:1709.08px;font-size:28.5px;letter-spacing:-1.0px;color:#f0522f;">ADET</div>
<div style="left:801px;top:1744.45px;font-size:18.5px;letter-spacing:0.521px;color:#1d1d1b;">Mil Mi-26 tipi <b style="font-weight:700;-webkit-text-stroke:0.25px #1d1d1b;">helikopter</b></div>
<div style="left:798px;top:1791.12px;font-size:28.5px;letter-spacing:0.0px;color:#f0522f;"><b style="font-weight:700;-webkit-text-stroke:0.9px #f0522f">2</b></div>
<div style="left:823px;top:1791.58px;font-size:28.5px;letter-spacing:-1.0px;color:#f0522f;">ADET</div>
<div style="left:801px;top:1826.95px;font-size:18.5px;letter-spacing:0.344px;color:#1d1d1b;">BE-200 <b style="font-weight:700;-webkit-text-stroke:0.25px #1d1d1b;">amfibik uçak</b></div>
<div style="left:66.5px;top:1910.58px;font-size:8.5px;letter-spacing:0.167px;color:#333;">21.08.2020</div>
</div>
</body></html>
